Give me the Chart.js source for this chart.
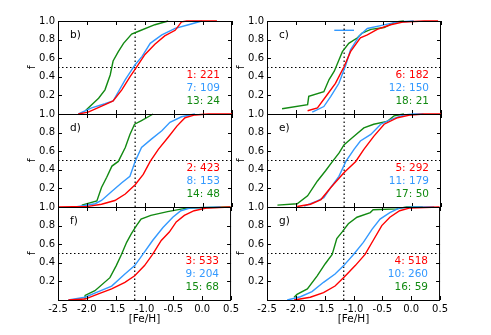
<!DOCTYPE html>
<html>
<head>
<meta charset="utf-8">
<script src="https://cdn.jsdelivr.net/npm/chart.js@4.4.1/dist/chart.umd.min.js"></script>
<style>
    html, body { margin: 0; padding: 0; background: #fff; }
    body { width: 491px; height: 335px; position: relative; overflow: hidden; }
    canvas { position: absolute; }
</style>
</head>
<body>
<canvas id="p-b"></canvas>
<canvas id="p-c"></canvas>
<canvas id="p-d"></canvas>
<canvas id="p-e"></canvas>
<canvas id="p-f"></canvas>
<canvas id="p-g"></canvas>
<script>
// cumulative fractions: [ [Fe/H], f ]
const b_red   = [[-2.15,0],[-1.98,0.02],[-1.69,0.10],[-1.55,0.14],[-1.40,0.26],[-1.26,0.40],[-1.14,0.51],[-1.00,0.64],[-0.83,0.75],[-0.66,0.84],[-0.48,0.90],[-0.37,0.99],[-0.28,1.0],[0.24,1.0]];
const b_blue  = [[-2.15,0],[-1.92,0.065],[-1.69,0.11],[-1.55,0.14],[-1.34,0.37],[-1.17,0.53],[-1.05,0.62],[-0.91,0.76],[-0.71,0.85],[-0.48,0.92],[-0.25,0.96],[-0.02,1.0]];
const b_green = [[-2.02,0.04],[-1.80,0.17],[-1.69,0.26],[-1.60,0.42],[-1.55,0.57],[-1.46,0.67],[-1.37,0.76],[-1.23,0.86],[-1.11,0.89],[-0.83,0.96],[-0.60,1.0]];

const c_red   = [[-1.80,0.035],[-1.63,0.065],[-1.46,0.21],[-1.32,0.33],[-1.17,0.51],[-1.06,0.67],[-0.89,0.82],[-0.77,0.85],[-0.60,0.91],[-0.37,0.96],[-0.14,0.99],[0.21,1.0],[0.45,1.0]];
const c_blue  = [[-1.72,0.02],[-1.52,0.08],[-1.40,0.19],[-1.26,0.33],[-1.14,0.53],[-1.06,0.69],[-0.91,0.84],[-0.77,0.92],[-0.54,0.95],[-0.25,0.99],[0.03,1.0]];
const c_green = [[-2.24,0.057],[-1.80,0.10],[-1.78,0.19],[-1.52,0.24],[-1.43,0.37],[-1.34,0.46],[-1.26,0.58],[-1.20,0.67],[-1.09,0.76],[-0.94,0.82],[-0.86,0.87],[-0.71,0.91],[-0.48,0.93],[-0.28,0.99],[-0.14,1.0]];
const c_bar   = [[-1.34,0.9],[-1.0,0.9]];

const d_red   = [[-2.5,0],[-1.98,0.007],[-1.75,0.03],[-1.52,0.07],[-1.34,0.14],[-1.17,0.24],[-1.03,0.35],[-0.91,0.49],[-0.77,0.62],[-0.60,0.75],[-0.45,0.87],[-0.31,0.96],[-0.14,0.99],[0.09,1.0],[0.5,1.0]];
const d_blue  = [[-2.2,0],[-1.86,0.035],[-1.75,0.07],[-1.57,0.17],[-1.40,0.26],[-1.26,0.33],[-1.17,0.49],[-1.06,0.64],[-0.89,0.73],[-0.71,0.82],[-0.57,0.91],[-0.37,0.97],[-0.14,1.0]];
const d_green = [[-2.09,0.02],[-1.83,0.065],[-1.75,0.21],[-1.66,0.32],[-1.57,0.44],[-1.46,0.49],[-1.34,0.64],[-1.26,0.78],[-1.18,0.89],[-1.06,0.93],[-0.86,1.0]];

const e_red   = [[-1.98,0.005],[-1.75,0.03],[-1.57,0.08],[-1.40,0.21],[-1.17,0.37],[-0.97,0.49],[-0.83,0.62],[-0.66,0.76],[-0.48,0.89],[-0.25,0.96],[-0.02,0.99],[0.21,1.0],[0.5,1.0]];
const e_blue  = [[-1.86,0.01],[-1.63,0.065],[-1.52,0.10],[-1.40,0.21],[-1.26,0.33],[-1.14,0.49],[-1.00,0.62],[-0.89,0.71],[-0.71,0.78],[-0.54,0.89],[-0.37,0.94],[-0.14,0.99],[0.03,1.0],[0.2,1.0]];
const e_green = [[-2.32,0.02],[-1.98,0.035],[-1.80,0.12],[-1.63,0.28],[-1.49,0.39],[-1.37,0.49],[-1.26,0.58],[-1.17,0.67],[-1.00,0.76],[-0.83,0.85],[-0.66,0.89],[-0.43,0.92],[-0.31,0.98],[-0.14,1.0]];

const f_red   = [[-2.32,0],[-2.03,0.01],[-1.80,0.065],[-1.57,0.12],[-1.34,0.19],[-1.17,0.26],[-1.00,0.37],[-0.86,0.49],[-0.71,0.64],[-0.57,0.73],[-0.45,0.84],[-0.31,0.91],[-0.14,0.96],[0.09,0.99],[0.49,1.0]];
const f_blue  = [[-2.32,0],[-2.03,0.03],[-1.80,0.09],[-1.57,0.15],[-1.34,0.28],[-1.17,0.37],[-1.03,0.49],[-0.86,0.64],[-0.68,0.78],[-0.51,0.89],[-0.37,0.96],[-0.20,0.99],[0.32,1.0]];
const f_green = [[-2.03,0.01],[-2.03,0.05],[-1.86,0.10],[-1.60,0.24],[-1.49,0.37],[-1.40,0.49],[-1.31,0.62],[-1.23,0.71],[-1.14,0.80],[-1.06,0.87],[-0.89,0.91],[-0.60,0.95],[-0.25,0.99],[0.49,1.0]];

const g_red   = [[-2.03,0],[-1.75,0.03],[-1.52,0.08],[-1.32,0.15],[-1.14,0.26],[-0.97,0.37],[-0.80,0.49],[-0.66,0.64],[-0.51,0.80],[-0.37,0.89],[-0.20,0.96],[-0.02,0.99],[0.49,1.0]];
const g_blue  = [[-2.15,0],[-1.92,0.035],[-1.72,0.09],[-1.52,0.19],[-1.32,0.28],[-1.17,0.37],[-1.00,0.49],[-0.83,0.62],[-0.68,0.76],[-0.54,0.87],[-0.37,0.94],[-0.20,0.99],[0.03,1.0],[0.4,1.0]];
const g_green = [[-2.03,0.03],[-1.98,0.06],[-1.80,0.12],[-1.63,0.26],[-1.49,0.39],[-1.37,0.49],[-1.29,0.66],[-1.20,0.73],[-1.09,0.82],[-0.94,0.89],[-0.71,0.94],[-0.66,0.97],[-0.25,0.98],[-0.08,1.0],[0.2,1.0]];

const panelLetters = ['b)', 'c)', 'd)', 'e)', 'f)', 'g)'];
const panelCounts = [
    ['1: 221', '7: 109', '13: 24'],
    ['6: 182', '12: 150', '18: 21'],
    ['2: 423', '8: 153', '14: 48'],
    ['5: 292', '11: 179', '17: 50'],
    ['3: 533', '9: 204', '15: 68'],
    ['4: 518', '10: 260', '16: 59']
];
const fehCut = -1.17;
const fHalf = 0.5;
const xRange = [-2.5, 0.5];

const RED = '#ff0000';
const BLUE = '#3399ff';
const GREEN = '#128a12';
const FONT = 'DejaVu Sans';

const colLeft = [58, 267];
const rowTop = [21, 114, 207];
const plotW = 174;
const plotH = 93;

const toXY = pts => pts.map(p => ({ x: p[0], y: p[1] }));

const decorPlugin = {
    id: 'decor',
    afterDraw(chart, args, opts) {
        const { ctx, chartArea: a, scales } = chart;
        ctx.save();
        // inward tick marks on all four sides
        ctx.strokeStyle = '#000';
        ctx.lineWidth = 1;
        ctx.beginPath();
        for (let v = -2.5; v <= 0.51; v += 0.5) {
            const px = Math.round(scales.x.getPixelForValue(v)) + 0.5;
            ctx.moveTo(px, a.top); ctx.lineTo(px, a.top + 4);
            ctx.moveTo(px, a.bottom); ctx.lineTo(px, a.bottom - 4);
        }
        for (let v = 0.2; v < 0.99; v += 0.2) {
            const py = Math.round(scales.y.getPixelForValue(v)) + 0.5;
            ctx.moveTo(a.left, py); ctx.lineTo(a.left + 4, py);
            ctx.moveTo(a.right, py); ctx.lineTo(a.right - 4, py);
        }
        ctx.stroke();
        ctx.strokeRect(a.left + 0.5, a.top + 0.5, a.right - a.left - 1, a.bottom - a.top);

        ctx.font = '10.5px "' + FONT + '"';
        ctx.textBaseline = 'middle';
        ctx.fillStyle = '#000';
        ctx.textAlign = 'left';
        ctx.fillText(opts.letter, a.left + 12, a.top + 14);
        ctx.textAlign = 'right';
        const cols = [RED, BLUE, GREEN];
        const offs = [54.5, 67.5, 80.5];
        opts.counts.forEach((t, i) => {
            ctx.fillStyle = cols[i];
            ctx.fillText(t, a.right - 12, a.top + offs[i]);
        });
        ctx.restore();
    }
};

function curve(pts, color) {
    return {
        data: toXY(pts),
        borderColor: color,
        borderWidth: 1.4,
        pointRadius: 0,
        fill: false,
        tension: 0,
        clip: 3
    };
}

function dotted(pts) {
    return {
        data: toXY(pts),
        borderColor: '#000',
        borderWidth: 1.2,
        borderDash: [1.5, 2.5],
        pointRadius: 0,
        fill: false,
        clip: 3
    };
}

function createPanel(id, index, red, blue, green, extra) {
    const col = index % 2;
    const row = Math.floor(index / 2);
    const bottom = row === 2;
    const canvas = document.getElementById(id);
    const padTop = 10, padRight = 10, yAxisW = 45;
    const padBottom = bottom ? 0 : 10;
    const xAxisH = bottom ? 32 : 0;
    canvas.width = yAxisW + plotW + padRight;
    canvas.height = padTop + plotH + padBottom + xAxisH;
    canvas.style.left = (colLeft[col] - yAxisW) + 'px';
    canvas.style.top = (rowTop[row] - padTop) + 'px';

    const datasets = [
        curve(red, RED),
        curve(blue, BLUE),
        curve(green, GREEN),
        dotted([[xRange[0], fHalf], [xRange[1], fHalf]]),
        dotted([[fehCut, 0], [fehCut, 1]])
    ];
    if (extra) datasets.push(curve(extra, BLUE));

    new Chart(canvas.getContext('2d'), {
        type: 'line',
        data: { datasets: datasets },
        plugins: [decorPlugin],
        options: {
            responsive: false,
            animation: false,
            events: [],
            layout: { padding: { top: padTop, right: padRight, bottom: padBottom, left: 0 } },
            plugins: {
                legend: { display: false },
                tooltip: { enabled: false },
                decor: { letter: panelLetters[index], counts: panelCounts[index] }
            },
            scales: {
                x: {
                    type: 'linear',
                    min: xRange[0],
                    max: xRange[1],
                    grid: { display: false, drawTicks: false },
                    border: { display: false },
                    ticks: {
                        display: bottom,
                        stepSize: 0.5,
                        autoSkip: false,
                        maxRotation: 0,
                        padding: 3,
                        color: '#000',
                        font: { family: FONT, size: 10 },
                        callback: v => v.toFixed(1)
                    },
                    title: {
                        display: bottom,
                        text: '[Fe/H]',
                        color: '#000',
                        font: { family: FONT, size: 10.5 },
                        padding: { top: 0, bottom: 6 }
                    },
                    afterFit: s => { s.height = xAxisH; }
                },
                y: {
                    min: 0,
                    max: 1,
                    grid: { display: false, drawTicks: false },
                    border: { display: false },
                    ticks: {
                        stepSize: 0.2,
                        padding: 3,
                        color: '#000',
                        font: { family: FONT, size: 10 },
                        callback: v => (v < 0.1 ? '' : v.toFixed(1))
                    },
                    title: {
                        display: true,
                        text: 'f',
                        color: '#000',
                        font: { family: FONT, size: 10.5 },
                        padding: { top: 13, bottom: 0 }
                    },
                    afterFit: s => { s.width = yAxisW; }
                }
            }
        }
    });
}

document.addEventListener('DOMContentLoaded', () => {
    createPanel('p-b', 0, b_red, b_blue, b_green);
    createPanel('p-c', 1, c_red, c_blue, c_green, c_bar);
    createPanel('p-d', 2, d_red, d_blue, d_green);
    createPanel('p-e', 3, e_red, e_blue, e_green);
    createPanel('p-f', 4, f_red, f_blue, f_green);
    createPanel('p-g', 5, g_red, g_blue, g_green);
});
</script>
</body>
</html>
